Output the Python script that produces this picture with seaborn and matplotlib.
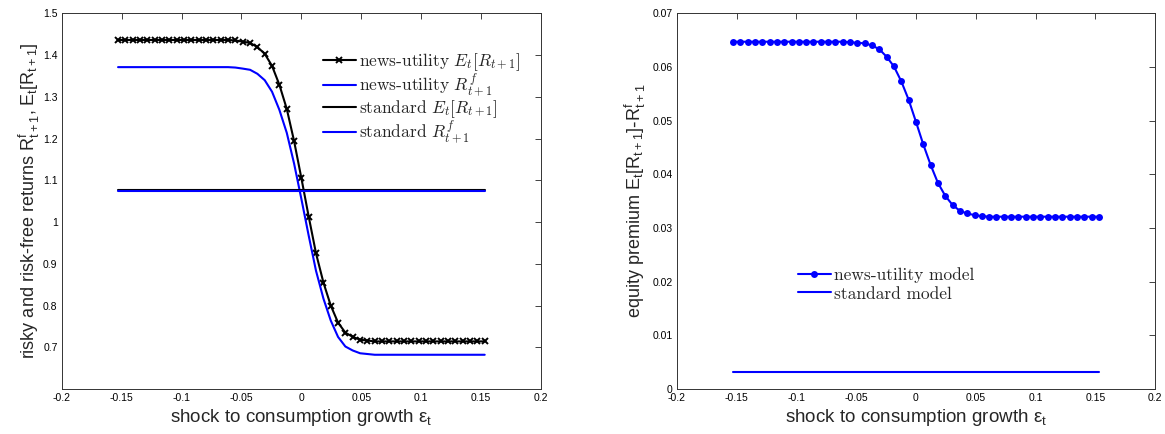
import numpy as np
import matplotlib
matplotlib.use("Agg")
import matplotlib.pyplot as plt
from matplotlib.font_manager import FontProperties
from matplotlib.ticker import FixedLocator, FuncFormatter
import seaborn as sns

# ---------------- data ----------------
shock = [-0.153, -0.1469, -0.1408, -0.1346, -0.1285, -0.1224, -0.1163, -0.1102, -0.1040, -0.0979,
         -0.0918, -0.0857, -0.0796, -0.0734, -0.0673, -0.0612, -0.0551, -0.0490, -0.0428, -0.0367,
         -0.0306, -0.0245, -0.0184, -0.0122, -0.0061, 0.0, 0.0061, 0.0122, 0.0184, 0.0245,
         0.0306, 0.0367, 0.0428, 0.0490, 0.0551, 0.0612, 0.0673, 0.0734, 0.0796, 0.0857,
         0.0918, 0.0979, 0.1040, 0.1102, 0.1163, 0.1224, 0.1285, 0.1346, 0.1408, 0.1469, 0.153]

news_expected_return = [1.436, 1.436, 1.436, 1.436, 1.436, 1.436, 1.436, 1.436, 1.436, 1.436,
                        1.436, 1.436, 1.436, 1.436, 1.436, 1.436, 1.435, 1.432, 1.429, 1.419,
                        1.403, 1.374, 1.329, 1.271, 1.194, 1.105, 1.013, 0.925, 0.855, 0.800,
                        0.759, 0.735, 0.725, 0.718, 0.716, 0.714, 0.714, 0.714, 0.714, 0.714,
                        0.714, 0.714, 0.714, 0.714, 0.714, 0.714, 0.714, 0.714, 0.714, 0.714, 0.714]

news_riskfree = [1.371, 1.371, 1.371, 1.371, 1.371, 1.371, 1.371, 1.371, 1.371, 1.371,
                 1.371, 1.371, 1.371, 1.371, 1.371, 1.371, 1.370, 1.3675, 1.3646, 1.355,
                 1.3397, 1.3121, 1.2689, 1.2137, 1.1401, 1.0552, 0.9674, 0.8832, 0.8166, 0.764,
                 0.7247, 0.7018, 0.6923, 0.6856, 0.6838, 0.682, 0.682, 0.682, 0.682, 0.682,
                 0.682, 0.682, 0.682, 0.682, 0.682, 0.682, 0.682, 0.682, 0.682, 0.682, 0.682]

standard_expected_return = [1.077] * 51
standard_riskfree = [1.074] * 51

news_premium = [0.0647, 0.0647, 0.0647, 0.0647, 0.0647, 0.0647, 0.0647, 0.0647, 0.0647, 0.0647,
                0.0647, 0.0647, 0.0647, 0.0647, 0.0647, 0.0647, 0.0646, 0.0645, 0.0644, 0.0640,
                0.0633, 0.0619, 0.0601, 0.0573, 0.0539, 0.0498, 0.0456, 0.0418, 0.0384, 0.0360,
                0.0343, 0.0332, 0.0327, 0.0324, 0.0322, 0.0321, 0.0321, 0.0321, 0.0321, 0.0321,
                0.0321, 0.0321, 0.0321, 0.0321, 0.0321, 0.0321, 0.0321, 0.0321, 0.0321, 0.0321, 0.0321]
standard_premium = [0.0032] * 51

x_ticks = [-0.2, -0.15, -0.1, -0.05, 0, 0.05, 0.1, 0.15, 0.2]
left_yticks = [0.7, 0.8, 0.9, 1.0, 1.1, 1.2, 1.3, 1.4, 1.5]
right_yticks = [0, 0.01, 0.02, 0.03, 0.04, 0.05, 0.06, 0.07]

left_labels = [r"news-utility $E_t[R_{t+1}]$", r"news-utility $R^f_{t+1}$",
               r"standard $E_t[R_{t+1}]$", r"standard $R^f_{t+1}$"]
right_labels = ["news-utility model", "standard model"]

# ---------------- style ----------------
sns.set_theme(style="white")
plt.rcParams["font.family"] = ["Liberation Sans", "DejaVu Sans"]
plt.rcParams["axes.unicode_minus"] = False
plt.rcParams["xtick.direction"] = "in"
plt.rcParams["ytick.direction"] = "in"

BLUE = "#0000ff"
BLACK = "#000000"

fig = plt.figure(figsize=(11.65, 4.34), dpi=100)
ax1 = fig.add_axes([0.0530, 0.1037, 0.4114, 0.8657])
ax2 = fig.add_axes([0.5809, 0.1037, 0.4106, 0.8657])

lw = 1.5
sns.lineplot(x=shock, y=news_expected_return, ax=ax1, color=BLACK, lw=lw, marker="x",
             markersize=4, markeredgewidth=1.4, markeredgecolor=BLACK, label=left_labels[0])
sns.lineplot(x=shock, y=news_riskfree, ax=ax1, color=BLUE, lw=lw, label=left_labels[1])
sns.lineplot(x=shock, y=standard_expected_return, ax=ax1, color=BLACK, lw=lw, label=left_labels[2])
sns.lineplot(x=shock, y=standard_riskfree, ax=ax1, color=BLUE, lw=lw, label=left_labels[3])

sns.lineplot(x=shock, y=news_premium, ax=ax2, color=BLUE, lw=lw, marker="o",
             markersize=5, markeredgewidth=0, markerfacecolor=BLUE, label=right_labels[0])
sns.lineplot(x=shock, y=standard_premium, ax=ax2, color=BLUE, lw=lw, label=right_labels[1])

def fmt(v, pos):
    s = ("%.2f" % v).rstrip("0").rstrip(".")
    if s in ("-0", ""):
        s = "0"
    return s

for ax, yt, ylim in ((ax1, left_yticks, (0.6, 1.5)), (ax2, right_yticks, (0, 0.07))):
    ax.set_xlim(-0.2, 0.2)
    ax.set_ylim(*ylim)
    ax.xaxis.set_major_locator(FixedLocator(x_ticks))
    ax.yaxis.set_major_locator(FixedLocator(yt))
    ax.xaxis.set_major_formatter(FuncFormatter(fmt))
    ax.yaxis.set_major_formatter(FuncFormatter(fmt))
    ax.tick_params(axis="both", which="major", labelsize=7.5, length=4, width=0.6,
                   top=True, right=True, pad=3, colors="#222222", labelcolor="black")
    for sp in ax.spines.values():
        sp.set_linewidth(0.7)
        sp.set_color("#333333")
    ax.set_facecolor("white")
    ax.set_xlabel(r"shock to consumption growth $\mathregular{\varepsilon_t}$", fontsize=13.5,
                  labelpad=3)

ax1.set_ylabel(r"risky and risk-free returns $\mathregular{R^f_{t+1}, E_t[R_{t+1}]}$",
               fontsize=13, labelpad=1)
ax2.set_ylabel(r"equity premium $\mathregular{E_t[R_{t+1}]\text{-}R^f_{t+1}}$",
               fontsize=13, labelpad=3)

leg_font = FontProperties(family="cmr10", size=12.5, math_fontfamily="cm")

h1 = ax1.get_lines()
ax1.legend(h1[:4], left_labels, prop=leg_font, frameon=False, loc="upper left",
           bbox_to_anchor=(0.545, 0.90), handlelength=1.9, handletextpad=0.2,
           labelspacing=-0.05, borderpad=0, borderaxespad=0)
h2 = ax2.get_lines()
ax2.legend(h2[:2], right_labels, prop=leg_font, frameon=False, loc="upper left",
           bbox_to_anchor=(0.253, 0.325), handlelength=1.9, handletextpad=0.2,
           labelspacing=0.2, borderpad=0, borderaxespad=0)

fig.savefig("out.png", dpi=100, facecolor="white")
